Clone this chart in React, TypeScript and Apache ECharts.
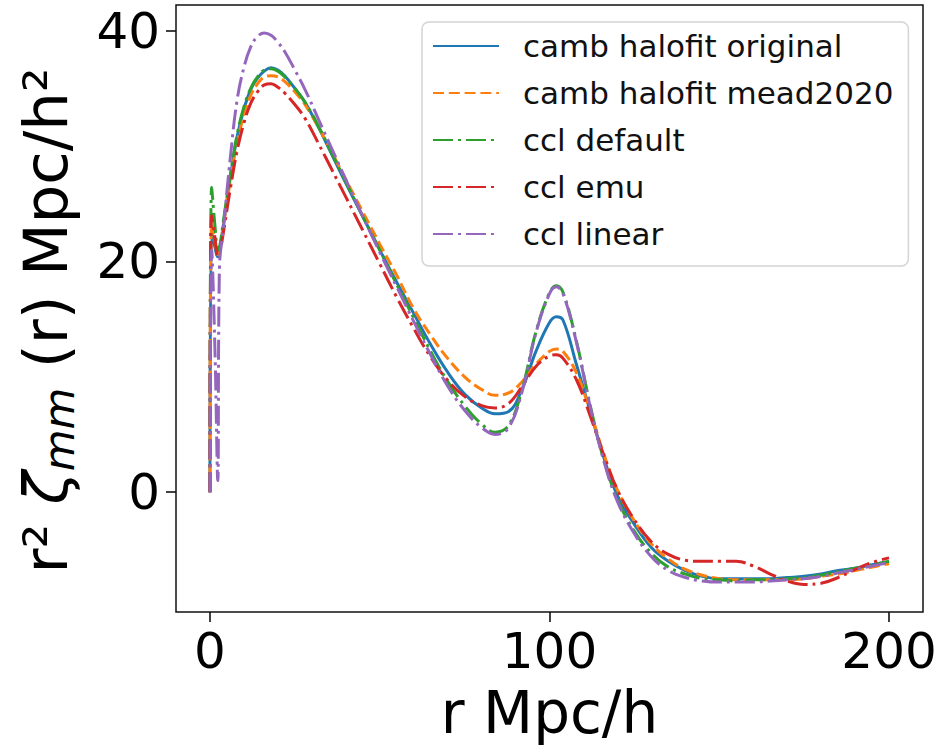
import React, { useEffect, useRef } from "react";
import * as echarts from "echarts";

const FONT = "DejaVu Sans";

// separation r in Mpc/h
const rValues = [
  0, 0.5, 1.5, 2.3, 2.8, 4, 6, 8, 10, 12, 14, 16, 18, 20, 22, 25, 28, 32, 36, 40,
  45, 50, 55, 60, 65, 70, 75, 80, 84, 88, 92, 96, 100, 102, 104, 108, 112, 116, 120, 125,
  130, 135, 140, 145, 150, 155, 160, 165, 170, 175, 180, 185, 190, 195, 200,
];

// r^2 xi_mm(r) for each power spectrum model
const cambOriginal = [
  0, 22.5, 21.2, 20.4, 20.8, 23.3, 27.3, 30.8, 33.2, 34.9, 35.9, 36.5, 36.8, 36.6, 36.1, 35.0, 33.8, 31.6, 29.2, 26.8,
  23.9, 21.0, 18.2, 15.5, 12.8, 10.4, 8.5, 7.3, 6.8, 7.0, 9.0, 12.2, 14.7, 15.2, 14.9, 11.0, 7.0, 3.0, -0.3, -2.8,
  -4.8, -6.0, -6.8, -7.3, -7.5, -7.5, -7.5, -7.5, -7.4, -7.3, -7.1, -6.8, -6.6, -6.3, -6.0,
];
const cambMead2020 = [
  0, 23.3, 21.8, 20.6, 20.9, 23.2, 27.0, 30.3, 32.7, 34.4, 35.4, 36.0, 36.1, 36.0, 35.6, 34.7, 33.6, 31.6, 29.4, 27.1,
  24.3, 21.5, 18.8, 15.9, 13.6, 11.6, 10.0, 8.9, 8.4, 8.6, 9.6, 11.1, 12.2, 12.4, 12.2, 10.3, 7.0, 3.3, 0.2, -2.5,
  -4.5, -5.8, -6.7, -7.2, -7.5, -7.6, -7.6, -7.6, -7.6, -7.5, -7.3, -7.1, -6.8, -6.5, -6.2,
];
const cclDefault = [
  0, 26.4, 23.0, 21.0, 21.2, 23.6, 27.5, 31.0, 33.4, 35.0, 36.0, 36.6, 36.7, 36.5, 36.0, 35.0, 33.8, 31.7, 29.3, 26.9,
  23.9, 21.0, 18.0, 15.1, 12.2, 9.6, 7.5, 5.9, 5.2, 5.8, 9.0, 13.9, 17.3, 17.9, 17.3, 13.0, 7.5, 2.8, -0.6, -3.4,
  -5.3, -6.5, -7.1, -7.5, -7.6, -7.7, -7.6, -7.6, -7.5, -7.4, -7.2, -6.9, -6.6, -6.3, -6.0,
];
const cclEmu = [
  0, 24.0, 22.0, 20.5, 20.6, 22.6, 26.3, 29.6, 32.0, 33.7, 34.7, 35.3, 35.4, 35.1, 34.6, 33.6, 32.4, 30.2, 27.9, 25.6,
  22.7, 19.8, 16.9, 14.2, 11.7, 9.7, 8.3, 7.5, 7.3, 7.7, 9.2, 10.9, 11.8, 11.9, 11.6, 9.7, 6.6, 3.2, 0.2, -2.4,
  -4.3, -5.4, -5.9, -6.0, -6.0, -6.0, -6.4, -7.1, -7.7, -8.0, -7.9, -7.4, -6.7, -6.1, -5.7,
];
const cclLinear = [
  0, 21.0, 12.0, 1.0, 19.5, 23.0, 29.0, 34.0, 36.8, 38.6, 39.5, 39.8, 39.6, 39.0, 38.2, 36.6, 34.9, 32.3, 29.7, 27.1,
  23.9, 20.8, 17.8, 14.8, 11.9, 9.2, 7.1, 5.6, 5.0, 5.6, 8.8, 13.8, 17.2, 17.8, 17.2, 12.9, 7.4, 2.7, -0.8, -3.6,
  -5.6, -6.8, -7.4, -7.7, -7.8, -7.8, -7.8, -7.7, -7.6, -7.5, -7.3, -7.0, -6.7, -6.4, -6.1,
];

const seriesNames = [
  "camb halofit original",
  "camb halofit mead2020",
  "ccl default",
  "ccl emu",
  "ccl linear",
];
const seriesValues = [cambOriginal, cambMead2020, cclDefault, cclEmu, cclLinear];
const seriesColors = ["#1f77b4", "#ff7f0e", "#2ca02c", "#d62728", "#9467bd"];

const xTicks = [0, 100, 200];
const yTicks = [0, 20, 40];

const LW = 3;
const DASHED = [11, 4.8];
const DASHDOT = [20, 5, 3, 5];
const seriesDashes: (string | number[])[] = ["solid", DASHED, DASHDOT, DASHDOT, DASHDOT];

export default function App() {
  const ref = useRef<HTMLDivElement>(null);

  useEffect(() => {
    if (!ref.current) return;
    const chart = echarts.init(ref.current, undefined, { renderer: "svg" });

    const series = seriesNames.map((name, k) => ({
      name,
      type: "line",
      data: rValues.map((r, i) => [r, seriesValues[k][i]]),
      symbol: "none",
      showSymbol: false,
      smooth: 0.4,
      lineStyle: { color: seriesColors[k], width: LW, type: seriesDashes[k] },
      itemStyle: { color: seriesColors[k] },
    }));

    const tickStyle = { color: "#111", width: 1.6 };

    chart.setOption({
      animation: false,
      backgroundColor: "#ffffff",
      textStyle: { fontFamily: FONT },
      grid: {
        left: 176,
        top: 5,
        width: 747,
        height: 607,
        show: true,
        borderColor: "#111",
        borderWidth: 1.5,
        backgroundColor: "transparent",
      },
      xAxis: {
        type: "value",
        min: -10,
        max: 210,
        name: "r Mpc/h",
        nameLocation: "middle",
        nameGap: 72,
        nameTextStyle: { fontFamily: FONT, fontSize: 58, color: "#000" },
        axisLine: { show: false, onZero: false },
        splitLine: { show: false },
        axisTick: {
          show: true,
          length: 10,
          lineStyle: tickStyle,
          customValues: xTicks,
        },
        axisLabel: {
          fontFamily: FONT,
          fontSize: 50,
          color: "#000",
          margin: 14,
          customValues: xTicks,
        },
      },
      yAxis: {
        type: "value",
        min: -10.39,
        max: 42.23,
        name: "{a|r² }{z|ζ}{s|mm}{a| (r) Mpc/h²}",
        nameLocation: "middle",
        nameRotate: 90,
        nameGap: 96,
        nameTextStyle: {
          fontFamily: FONT,
          fontSize: 61,
          color: "#000",
          padding: [0, 24, 0, 0],
          rich: {
            a: { fontFamily: FONT, fontSize: 61, color: "#000" },
            z: { fontFamily: FONT, fontSize: 61, fontStyle: "italic", color: "#000" },
            s: {
              fontFamily: FONT,
              fontSize: 43,
              fontStyle: "italic",
              color: "#000",
              padding: [27, 0, 0, 0],
            },
          },
        },
        axisLine: { show: false, onZero: false },
        splitLine: { show: false },
        axisTick: {
          show: true,
          length: 10,
          lineStyle: tickStyle,
          customValues: yTicks,
        },
        axisLabel: {
          fontFamily: FONT,
          fontSize: 50,
          color: "#000",
          margin: 16,
          customValues: yTicks,
        },
      },
      legend: {
        orient: "vertical",
        left: 422,
        top: 22,
        padding: [6, 15, 14, 10],
        itemWidth: 66,
        itemHeight: 20,
        itemGap: 11,
        backgroundColor: "rgba(255,255,255,0.8)",
        borderColor: "#d4d4d4",
        borderWidth: 1.5,
        borderRadius: 7,
        itemStyle: { opacity: 0 },
        textStyle: {
          fontFamily: FONT,
          fontSize: 31,
          color: "#111",
          lineHeight: 36,
          padding: [0, 0, 0, 19],
        },
        data: seriesNames,
      },
      series,
    });

    return () => chart.dispose();
  }, []);

  return (
    <div
      ref={ref}
      style={{ position: "fixed", left: 0, top: 0, width: 941, height: 749, background: "#fff" }}
    />
  );
}
